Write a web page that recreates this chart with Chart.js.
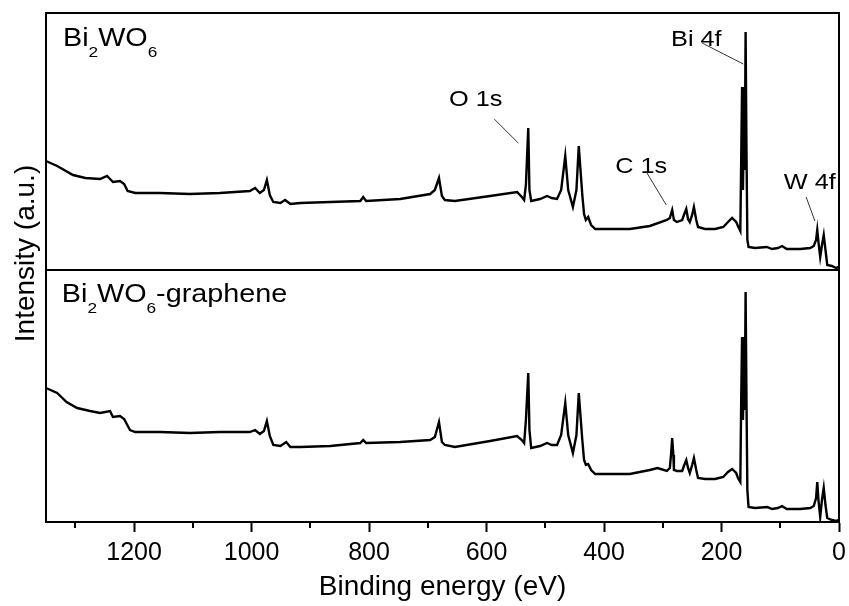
<!DOCTYPE html>
<html><head><meta charset="utf-8">
<script src="https://cdn.jsdelivr.net/npm/chart.js@4.4.1/dist/chart.umd.min.js"></script>
<style>html,body{margin:0;padding:0;background:#fff}canvas{display:block}</style>
</head><body>
<canvas id="c" width="849" height="606"></canvas>
<script>
// ---- data (binding energy in eV, intensity in a.u.) ----
const energyTop = [1350,1331,1304,1283,1258,1246,1241,1236,1224,1217,1211,1198,1156,1105,1054,1003,994,986,979,974,969,963,951,943,934,917,866,815,810,805,747,696,688,681,676,671,654,594,548,540,536,533,529,527,524,509,497,489,480,473,466,461,453,447,443,437,434,431,427,422,415,356,322,293,288,284,281,276,267,264,260,257,254,250,247,243,240,228,211,197,189,182,175,172,168,166.5,165,163.5,162,160.5,159,157.5,156,154,143,123,114,104,97,89,66,49,43,39,37,35,32,29,26,23,20,12,5,0];
const intensityTop = [109,104,95,92,91,94,91,88,89,86,79,77,77,76,77,79,82,77,80,90,75,68,67,70,66,67,68,69,73,69,71,76,80,92,74,70,69,74,78,73,70,85,142,80,69,71,74,72,71,80,114,80,63,80,124,75,56,50,53,45,41,41,44,50,52,60,50,48,50,55,61,51,48,55,63,50,43,41,41,43,48,52,48,44,39,110,183,80,150,100,238,120,30,23,22,23,21,22,24,21,21,22,24,30,40,28,13,25,35,20,5,4,2,3];
const energyBottom = [1350,1331,1315,1297,1275,1258,1241,1236,1224,1217,1207,1198,1156,1105,1054,1003,994,986,979,974,969,963,951,941,934,917,866,815,810,805,747,696,688,681,676,671,654,594,548,540,536,533,529,527,524,509,497,489,480,473,466,461,453,447,443,437,434,431,427,422,415,356,322,309,293,288,286,284,282,281,276,267,264,260,257,254,250,247,243,240,228,211,197,189,182,175,172,168,166.5,165,163.5,162,160.5,159,157.5,156,154,143,122,114,104,97,89,66,49,43,39,37,35,32,29,26,23,20,12,5,0];
const intensityBottom = [134,129,120,114,111,109,111,105,106,103,92,90,90,89,90,90,92,88,91,101,86,77,76,80,75,75,76,79,82,79,80,82,85,100,80,77,75,81,86,82,79,102,149,92,74,76,79,77,77,87,119,87,69,87,129,82,62,57,58,52,48,48,52,54,51,54,67,84,67,52,51,51,56,62,54,49,57,64,52,44,43,43,45,50,53,49,44,40,122,185,102,152,112,230,122,32,15,14,15,13,14,16,13,13,14,16,24,40,22,5,22,34,17,4,2,1,2];
const xMajorTicks = [0,200,400,600,800,1000,1200];
const xMinorTicks = [100,300,500,700,900,1100,1300];
const sampleNames = ['Bi2WO6','Bi2WO6-graphene'];
const peakNames = ['O 1s','C 1s','Bi 4f','W 4f'];

// ---- annotation placement (data coordinates of the top panel) ----
const peakLabelPos = [
  {text: peakNames[0], x: 664, y: 164, line: [587,151,546,127]},
  {text: peakNames[1], x: 381, y: 97,  line: [328,98,294,65]},
  {text: peakNames[2], x: 286, y: 224, line: [233,227,163,206]},
  {text: peakNames[3], x: 94,  y: 81,  line: [56,73,41,49]}
];

const FONT = '"Liberation Sans", Arial, sans-serif';

function drawStretched(ctx, text, x, y, size, sx) {
  ctx.save();
  ctx.translate(x, y);
  ctx.scale(sx, 1);
  ctx.font = size + 'px ' + FONT;
  ctx.fillText(text, 0, 0);
  const w = ctx.measureText(text).width * sx;
  ctx.restore();
  return w;
}

function drawFormula(ctx, x, y, suffix) {
  const sx = 1.15;
  let cx = x;
  cx += drawStretched(ctx, 'Bi', cx, y, 25, sx);
  cx += drawStretched(ctx, '2', cx, y + 11, 15, sx);
  cx += drawStretched(ctx, 'WO', cx, y, 25, sx);
  cx += drawStretched(ctx, '6', cx, y + 11, 15, sx);
  if (suffix) drawStretched(ctx, suffix, cx, y, 25, sx);
}

const decor = {
  id: 'decor',
  afterDraw(chart) {
    const {ctx, chartArea: a, scales} = chart;
    const xs = scales.x, yt = scales.yTop, yb = scales.yBot;
    ctx.save();
    ctx.strokeStyle = '#000';
    ctx.lineWidth = 2;
    ctx.strokeRect(a.left, a.top, a.right - a.left, a.bottom - a.top);
    const yDiv = yt.getPixelForValue(0);
    ctx.beginPath();
    ctx.moveTo(a.left, yDiv);
    ctx.lineTo(a.right, yDiv);
    ctx.stroke();
    for (const v of xMinorTicks) {
      const px = Math.round(xs.getPixelForValue(v));
      ctx.beginPath();
      ctx.moveTo(px, a.bottom);
      ctx.lineTo(px, a.bottom + 6);
      ctx.stroke();
    }
    ctx.fillStyle = '#000';
    ctx.save();
    ctx.translate(26, (a.top + a.bottom) / 2 - 14);
    ctx.rotate(-Math.PI / 2);
    ctx.font = '28px ' + FONT;
    ctx.textAlign = 'center';
    ctx.textBaseline = 'middle';
    ctx.fillText('Intensity (a.u.)', 0, 0);
    ctx.restore();
    ctx.textBaseline = 'alphabetic';
    ctx.textAlign = 'left';
    drawFormula(ctx, xs.getPixelForValue(1321), yt.getPixelForValue(224), '');
    drawFormula(ctx, xs.getPixelForValue(1323), yb.getPixelForValue(220), '-graphene');
    for (const p of peakLabelPos) {
      ctx.fillStyle = '#000';
      drawStretched(ctx, p.text, xs.getPixelForValue(p.x), yt.getPixelForValue(p.y), 22, 1.15);
      ctx.strokeStyle = '#333';
      ctx.lineWidth = 1;
      ctx.beginPath();
      ctx.moveTo(xs.getPixelForValue(p.line[0]), yt.getPixelForValue(p.line[1]));
      ctx.lineTo(xs.getPixelForValue(p.line[2]), yt.getPixelForValue(p.line[3]));
      ctx.stroke();
    }
    ctx.restore();
  }
};

const toPts = (xs, ys) => xs.map((e, i) => ({x: e, y: ys[i]}));

new Chart(document.getElementById('c'), {
  type: 'line',
  data: {
    datasets: [
      {label: sampleNames[0], data: toPts(energyTop, intensityTop), yAxisID: 'yTop',
       borderColor: '#000', borderWidth: 2.4, pointRadius: 0, tension: 0, fill: false},
      {label: sampleNames[1], data: toPts(energyBottom, intensityBottom), yAxisID: 'yBot',
       borderColor: '#000', borderWidth: 2.4, pointRadius: 0, tension: 0, fill: false}
    ]
  },
  options: {
    responsive: false,
    animation: false,
    layout: {padding: {top: 13, right: 10, left: 0, bottom: 0}},
    plugins: {legend: {display: false}, tooltip: {enabled: false}},
    scales: {
      x: {
        type: 'linear', position: 'bottom', min: 0, max: 1350, reverse: true,
        afterBuildTicks: s => { s.ticks = xMajorTicks.map(v => ({value: v})); },
        afterFit: s => { s.height = 84; },
        ticks: {color: '#000', font: {family: FONT, size: 25}, padding: 6, maxRotation: 0,
                callback: v => String(v)},
        grid: {display: true, drawOnChartArea: false, drawTicks: true, tickLength: 10,
               tickWidth: 2, tickColor: '#000'},
        border: {display: true, color: '#000', width: 2},
        title: {display: true, text: 'Binding energy (eV)', color: '#000',
                font: {family: FONT, size: 28}, padding: {top: 0, bottom: 2}}
      },
      yBot: {
        type: 'linear', position: 'left', stack: 'intensity', stackWeight: 252,
        min: 0, max: 252,
        afterFit: s => { s.width = 46; },
        ticks: {display: false}, grid: {display: false},
        border: {display: true, color: '#000', width: 2}
      },
      yTop: {
        type: 'linear', position: 'left', stack: 'intensity', stackWeight: 257,
        min: 0, max: 257,
        afterFit: s => { s.width = 46; },
        ticks: {display: false}, grid: {display: false},
        border: {display: true, color: '#000', width: 2}
      }
    }
  },
  plugins: [decor]
});
</script>
</body></html>
